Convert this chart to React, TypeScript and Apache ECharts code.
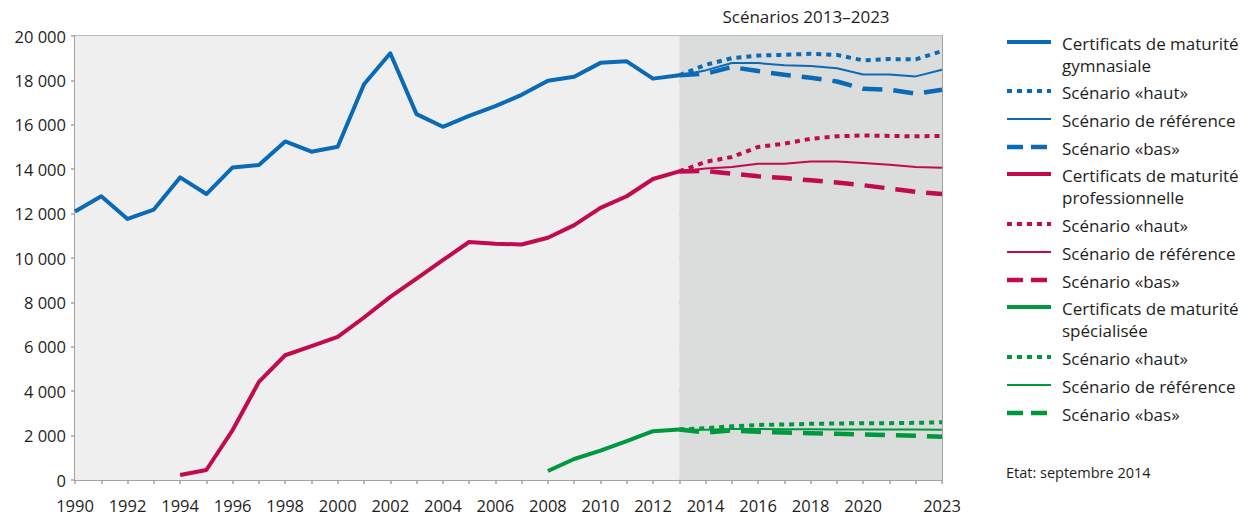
import React, { useEffect, useRef } from "react";
import * as echarts from "echarts";

const years = [
  "1990", "1991", "1992", "1993", "1994", "1995", "1996", "1997", "1998", "1999",
  "2000", "2001", "2002", "2003", "2004", "2005", "2006", "2007", "2008", "2009",
  "2010", "2011", "2012", "2013", "2014", "2015", "2016", "2017", "2018", "2019",
  "2020", "2021", "2022", "2023",
];

// Historical values 1990–2013
const gymnasiale = [
  12090, 12780, 11760, 12180, 13630, 12880, 14080, 14190, 15250, 14790,
  15010, 17830, 19220, 16480, 15910, 16400, 16840, 17350, 17980, 18160,
  18790, 18860, 18080, 18230,
];
const professionnelle = [
  null, null, null, null, 225, 450, 2250, 4420, 5620, 6030,
  6450, 7320, 8250, 9070, 9900, 10720, 10640, 10610, 10910, 11480,
  12260, 12780, 13560, 13900,
];
const specialisee = [
  null, null, null, null, null, null, null, null, null, null,
  null, null, null, null, null, null, null, null, 405, 945,
  1320, 1750, 2200, 2275,
];

// Scenarios 2013–2023
const gymHaut = [18230, 18700, 19000, 19120, 19150, 19200, 19150, 18900, 18960, 18950, 19320];
const gymRef = [18230, 18450, 18780, 18780, 18680, 18650, 18550, 18270, 18270, 18180, 18480];
const gymBas = [18230, 18300, 18600, 18420, 18250, 18120, 17950, 17620, 17580, 17400, 17580];
const proHaut = [13900, 14330, 14550, 15000, 15150, 15370, 15480, 15520, 15500, 15480, 15500];
const proRef = [13900, 14030, 14100, 14250, 14250, 14350, 14350, 14280, 14200, 14100, 14060];
const proBas = [13900, 13920, 13800, 13680, 13600, 13500, 13400, 13280, 13130, 12980, 12880];
const speHaut = [2275, 2330, 2420, 2480, 2500, 2530, 2545, 2560, 2560, 2575, 2600];
const speRef = [2275, 2260, 2300, 2300, 2290, 2290, 2280, 2280, 2280, 2270, 2260];
const speBas = [2275, 2140, 2230, 2170, 2140, 2110, 2080, 2050, 2020, 1990, 1950];

const BLUE = "#0b6ab6";
const RED = "#c20a4e";
const GREEN = "#00983e";
const FONT = "Open Sans";
const TXT = "#1e1e1e";

const padHist = (arr: (number | null)[]) => {
  const out: (number | null)[] = arr.slice();
  while (out.length < years.length) out.push(null);
  return out;
};
const padScen = (arr: number[]) => {
  const out: (number | null)[] = [];
  const start = years.indexOf("2013");
  for (let i = 0; i < start; i++) out.push(null);
  return out.concat(arr);
};

const DOT = [5, 5];
const DASH = [20, 11];

export default function App() {
  const ref = useRef<HTMLDivElement>(null);
  useEffect(() => {
    document.body.style.margin = "0";
    const chart = echarts.init(ref.current!, null, { renderer: "svg" });

    const mk = (name: string, data: (number | null)[], color: string, width: number, type: any, z = 3) => ({
      name,
      type: "line",
      data,
      showSymbol: false,
      symbol: "none",
      connectNulls: false,
      z,
      lineStyle: { color, width, type, cap: "butt", join: "round" },
    });

    const series: any[] = [
      {
        ...mk("Certificats de maturité gymnasiale", padHist(gymnasiale), BLUE, 4, "solid", 4),
        markArea: {
          silent: true,
          data: [
            [{ xAxis: "1990", itemStyle: { color: "#efefef" } }, { xAxis: "2013" }],
            [{ xAxis: "2013", itemStyle: { color: "#dbdcdc" } }, { xAxis: "2023" }],
          ],
        },
      },
      mk("gym haut", padScen(gymHaut), BLUE, 4, DOT),
      mk("gym ref", padScen(gymRef), BLUE, 2, "solid"),
      mk("gym bas", padScen(gymBas), BLUE, 4.5, DASH),
      mk("Certificats de maturité professionnelle", padHist(professionnelle), RED, 4, "solid", 4),
      mk("pro haut", padScen(proHaut), RED, 4, DOT),
      mk("pro ref", padScen(proRef), RED, 2, "solid"),
      mk("pro bas", padScen(proBas), RED, 4.5, DASH),
      mk("Certificats de maturité spécialisée", padHist(specialisee), GREEN, 4, "solid", 4),
      mk("spe haut", padScen(speHaut), GREEN, 4, DOT),
      mk("spe ref", padScen(speRef), GREEN, 2, "solid"),
      mk("spe bas", padScen(speBas), GREEN, 4.5, DASH),
    ];

    const legendItems = [
      { color: BLUE, width: 4, dash: null, lines: ["Certificats de maturité", "gymnasiale"], y: 42 },
      { color: BLUE, width: 4, dash: DOT, lines: ["Scénario «haut»"], y: 91 },
      { color: BLUE, width: 2, dash: null, lines: ["Scénario de référence"], y: 119 },
      { color: BLUE, width: 4.5, dash: [16, 8], lines: ["Scénario «bas»"], y: 147 },
      { color: RED, width: 4, dash: null, lines: ["Certificats de maturité", "professionnelle"], y: 174 },
      { color: RED, width: 4, dash: DOT, lines: ["Scénario «haut»"], y: 224 },
      { color: RED, width: 2, dash: null, lines: ["Scénario de référence"], y: 252 },
      { color: RED, width: 4.5, dash: [16, 8], lines: ["Scénario «bas»"], y: 280 },
      { color: GREEN, width: 4, dash: null, lines: ["Certificats de maturité", "spécialisée"], y: 307 },
      { color: GREEN, width: 4, dash: DOT, lines: ["Scénario «haut»"], y: 357 },
      { color: GREEN, width: 2, dash: null, lines: ["Scénario de référence"], y: 385 },
      { color: GREEN, width: 4.5, dash: [16, 8], lines: ["Scénario «bas»"], y: 413 },
    ];

    const graphics: any[] = [];
    legendItems.forEach((it) => {
      graphics.push({
        type: "line",
        shape: { x1: 1007, y1: it.y, x2: 1051, y2: it.y },
        style: { stroke: it.color, lineWidth: it.width, lineDash: it.dash || undefined },
        silent: true,
      });
      it.lines.forEach((t, i) => {
        graphics.push({
          type: "text",
          x: 1062,
          y: it.y + 1 + i * 22,
          style: { text: t, fill: TXT, font: `17px "${FONT}"`, verticalAlign: "middle", align: "left" },
          silent: true,
        });
      });
    });
    graphics.push({
      type: "text",
      x: 1006,
      y: 472,
      style: { text: "Etat: septembre 2014", fill: TXT, font: `14.5px "${FONT}"`, verticalAlign: "middle" },
      silent: true,
    });
    graphics.push({
      type: "text",
      x: 806,
      y: 16,
      style: { text: "Scénarios 2013–2023", fill: TXT, font: `17px "${FONT}"`, verticalAlign: "middle", align: "center" },
      silent: true,
    });

    const fmt = (v: number) => (v === 0 ? "0" : `${Math.floor(v / 1000)} ${String(v % 1000).padStart(3, "0")}`);

    chart.setOption({
      animation: false,
      textStyle: { fontFamily: FONT },
      grid: { left: 75, right: 303, top: 36, bottom: 38, containLabel: false },
      xAxis: {
        type: "category",
        data: years,
        boundaryGap: false,
        axisLine: { lineStyle: { color: "#a3a3a3", width: 2 } },
        axisTick: { show: true, interval: 0, length: 4, lineStyle: { color: "#a3a3a3", width: 1.5 } },
        axisLabel: {
          interval: (i: number, v: string) => {
            const y = Number(v);
            return (y % 2 === 0 && y <= 2020) || y === 2023;
          },
          color: TXT,
          fontSize: 16.5,
          margin: 17,
          fontFamily: FONT,
        },
        splitLine: { show: false },
      },
      yAxis: [
        {
          type: "value",
          min: 0,
          max: 20000,
          interval: 2000,
          axisLine: { show: true, lineStyle: { color: "#a3a3a3", width: 2 } },
          axisTick: { show: true, length: 4, lineStyle: { color: "#a3a3a3", width: 1.5 } },
          axisLabel: { color: TXT, fontSize: 16.5, margin: 9, formatter: fmt, fontFamily: FONT },
          splitLine: { show: true, lineStyle: { color: "#a6a6a6", width: 1.5 } },
        },
        {
          type: "value",
          min: 0,
          max: 20000,
          interval: 2000,
          position: "right",
          axisLine: { show: true, lineStyle: { color: "#a3a3a3", width: 2 } },
          axisTick: { show: false },
          axisLabel: { show: false },
          splitLine: { show: false },
        },
      ],
      series,
      graphic: graphics,
    });

    return () => chart.dispose();
  }, []);

  return <div ref={ref} style={{ width: 1245, height: 518 }} />;
}
